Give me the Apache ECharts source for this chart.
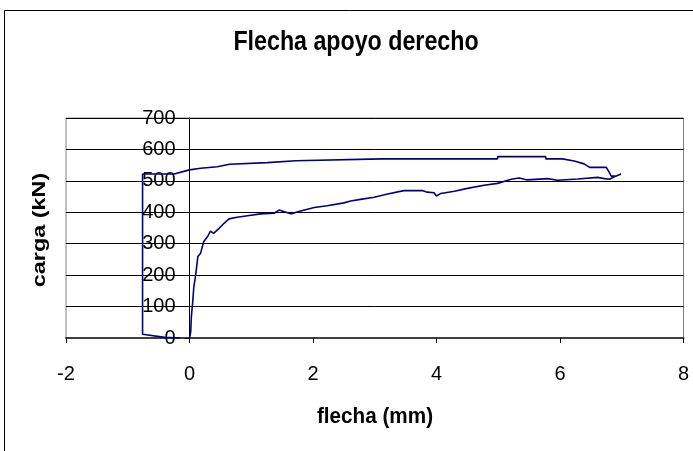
<!DOCTYPE html>
<html>
<head>
<meta charset="utf-8">
<script src="https://cdn.jsdelivr.net/npm/echarts@6/dist/echarts.min.js"></script>
<style>html,body{margin:0;padding:0;background:#fff}#c{width:693px;height:451px}</style>
</head>
<body>
<div id="c"></div>
<script>
// flecha (mm)
var flecha = [0, 0.02, 0.03, 0.05, 0.07, 0.10, 0.135, 0.18, 0.23, 0.29, 0.34, 0.39, 0.48, 0.56, 0.64, 0.77, 0.94, 1.15, 1.37, 1.45, 1.64, 1.80, 2.02, 2.23, 2.50, 2.61, 2.77, 2.99, 3.21, 3.47, 3.77, 3.85, 3.96, 4.00, 4.07, 4.29, 4.50, 4.77, 4.99, 5.21, 5.34, 5.47, 5.80, 5.96, 6.29, 6.61, 6.72, 6.80, 6.88, 6.99,
  6.91, 6.83, 6.80, 6.75, 6.48, 6.39, 6.23, 6.04, 5.77, 5.77, 4.99, 4.99, 3.12, 3.12, 1.72, 1.26, 0.65, 0.45, 0.18, 0, -0.25, -0.76, -0.76, -0.40, -0.15];
// carga (kN)
var carga = [0, 20, 68, 110, 163, 200, 259, 270, 306, 322, 340, 333, 349, 365, 379, 384, 389, 395, 397, 407, 395, 404, 415, 421, 430, 436, 441, 448, 458, 469, 469, 464, 462, 452, 460, 467, 476, 486, 492, 505, 509, 503, 507, 502, 506, 511, 507, 505, 513, 522,
  515, 515, 526, 543, 543, 554, 563, 570, 570, 577, 577, 570, 570, 564, 564, 558, 553, 545, 540, 535, 522, 522, 12, 2, 0];
var xTicks = [-2, 0, 2, 4, 6, 8];
var yTicks = [0, 100, 200, 300, 400, 500, 600, 700];
var titleText = 'Flecha apoyo derecho';
var xName = 'flecha (mm)';
var yName = 'carga (kN)';

var pts = flecha.map(function (x, i) { return [x, carga[i]]; });
var font = '"Liberation Sans", Arial, sans-serif';

var W = 693, gridLeft = 66, gridRight = 9.5;
var xMin = xTicks[0], xMax = xTicks[xTicks.length - 1];
var zeroOffset = (0 - xMin) / (xMax - xMin) * (W - gridLeft - gridRight);

var chart = echarts.init(document.getElementById('c'), null, {renderer: 'canvas'});
chart.setOption({
  animation: false,
  backgroundColor: '#fff',
  grid: {left: gridLeft, top: 118, right: gridRight, bottom: 113, show: true, borderColor: '#808080', borderWidth: 1, backgroundColor: 'transparent'},
  xAxis: {
    type: 'value', min: xMin, max: xMax, interval: 2,
    axisLine: {onZero: true, lineStyle: {color: '#404040', width: 2}},
    axisTick: {show: true, length: 5, lineStyle: {color: '#000'}},
    axisLabel: {fontSize: 20, color: '#000', fontFamily: font, margin: 26},
    splitLine: {show: false}
  },
  yAxis: {
    type: 'value', min: yTicks[0], max: yTicks[yTicks.length - 1], interval: 100,
    offset: -zeroOffset,
    axisLine: {show: true, onZero: false, lineStyle: {color: '#000', width: 1}},
    axisTick: {show: true, length: 5, lineStyle: {color: '#000'}},
    axisLabel: {fontSize: 20, color: '#000', fontFamily: font, margin: 14},
    splitLine: {show: true, lineStyle: {color: '#000', width: 1}}
  },
  graphic: [
    {type: 'rect', shape: {x: 4.5, y: 10.5, width: 720, height: 480}, style: {fill: 'none', stroke: '#000', lineWidth: 1}, silent: true, z: -1},
    {type: 'text', x: 356, y: 43, scaleX: 0.86, style: {text: titleText, x: 0, y: 0, textAlign: 'center', textVerticalAlign: 'middle', font: 'bold 27px ' + font, fill: '#000'}},
    {type: 'text', x: 375, y: 417, scaleX: 0.94, style: {text: xName, x: 0, y: 0, textAlign: 'center', textVerticalAlign: 'middle', font: 'bold 22px ' + font, fill: '#000'}},
    {type: 'text', x: 40, y: 230, rotation: Math.PI / 2, scaleX: 1.3, style: {text: yName, x: 0, y: 0, textAlign: 'center', textVerticalAlign: 'middle', font: 'bold 18px ' + font, fill: '#000'}}
  ],
  series: [{
    type: 'line', data: pts, showSymbol: false, symbol: 'none',
    lineStyle: {color: '#000080', width: 1.6}, z: 5
  }]
});
</script>
</body>
</html>
